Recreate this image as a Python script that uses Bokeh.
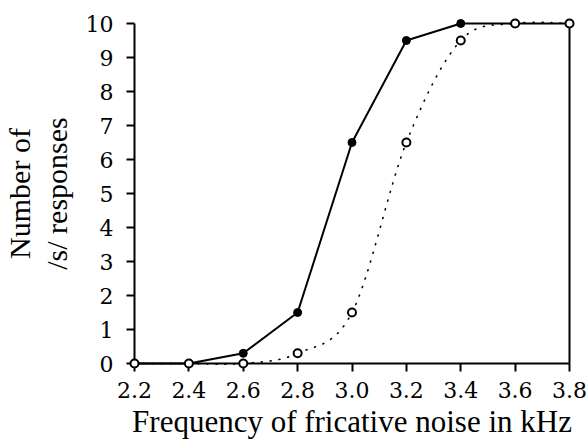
import numpy as np
from bokeh.plotting import figure
from bokeh.models import (Range1d, LinearAxis, FixedTicker, ColumnDataSource,
                          CustomJSTickFormatter)
from bokeh.embed import file_html
from bokeh.resources import INLINE

# Identification responses along the fricative-noise continuum
freq_khz = [2.2, 2.4, 2.6, 2.8, 3.0, 3.2, 3.4, 3.6, 3.8]
s_responses_solid = [0, 0, 0.3, 1.5, 6.5, 9.5, 10, 10, 10]
s_responses_dotted = [0, 0, 0, 0.3, 1.5, 6.5, 9.5, 10, 10]

x_ticks = [2.2, 2.4, 2.6, 2.8, 3.0, 3.2, 3.4, 3.6, 3.8]
x_tick_labels = ["2.2", "2.4", "2.6", "2.8", "3.0", "3.2", "3.4", "3.6", "3.8"]
y_ticks = [0, 1, 2, 3, 4, 5, 6, 7, 8, 9, 10]
y_tick_labels = ["0", "1", "2", "3", "4", "5", "6", "7", "8", "9", "10"]

x_title = "Frequency of fricative noise in kHz"
y_title = "Number of\n/s/ responses"

TITLE_FONT = "Liberation Serif"
TICK_FONT = "DejaVu Serif"
TICK_FONT_SIZE = "22px"
X_TITLE_FONT_SIZE = "31px"
Y_TITLE_FONT_SIZE = "30px"

x_lo, x_hi = x_ticks[0], x_ticks[-1]
y_lo, y_hi = y_ticks[0], y_ticks[-1]

p = figure(
    width=587, height=443,
    frame_width=435, frame_height=340,
    x_range=Range1d(x_lo, x_hi),
    y_range=Range1d(y_lo, y_hi),
    output_backend="svg", toolbar_location=None,
    min_border_left=132, min_border_right=20,
    min_border_top=23, min_border_bottom=80,
    x_axis_label=x_title, y_axis_label=y_title,
)
p.background_fill_color = "white"
p.border_fill_color = "white"
p.outline_line_color = None
p.xgrid.visible = False
p.ygrid.visible = False

LABEL_JS = """
let best = 0;
for (let i = 1; i < tick_values.length; i++) {
    if (Math.abs(tick_values[i] - tick) < Math.abs(tick_values[best] - tick)) best = i;
}
return tick_texts[best];
"""


def style_axis(ax, ticks, labels, title_size):
    ax.ticker = FixedTicker(ticks=ticks)
    ax.formatter = CustomJSTickFormatter(
        args=dict(tick_values=ticks, tick_texts=labels), code=LABEL_JS)
    ax.axis_line_width = 2
    ax.axis_line_color = "black"
    ax.major_tick_line_width = 2
    ax.major_tick_line_color = "black"
    ax.major_tick_in = 0
    ax.major_tick_out = 8
    ax.minor_tick_line_color = None
    ax.major_label_text_font = TICK_FONT
    ax.major_label_text_font_size = TICK_FONT_SIZE
    ax.major_label_text_font_style = "normal"
    ax.major_label_text_color = "black"
    ax.axis_label_text_font = TITLE_FONT
    ax.axis_label_text_font_size = title_size
    ax.axis_label_text_font_style = "normal"
    ax.axis_label_text_color = "black"


xa = p.xaxis[0]
style_axis(xa, x_ticks, x_tick_labels, X_TITLE_FONT_SIZE)
xa.major_label_standoff = 10
xa.axis_label_standoff = 3

ya = p.yaxis[0]
style_axis(ya, y_ticks, y_tick_labels, Y_TITLE_FONT_SIZE)
ya.major_label_standoff = 13
ya.axis_label_standoff = 10
ya.axis_label_text_line_height = 1.1

# plain right-hand spine
ra = LinearAxis(
    axis_line_width=2, axis_line_color="black",
    major_tick_line_color=None, minor_tick_line_color=None,
    major_label_text_color=None,
)
p.add_layout(ra, "right")

# solid series: straight segments with filled dots
p.line(freq_khz, s_responses_solid, line_color="black", line_width=2,
       level="overlay")
p.scatter(freq_khz, s_responses_solid, marker="circle", size=8,
          fill_color="black", line_color="black", line_width=1,
          level="overlay")

# dotted series: smooth cardinal curve through the points as Bezier pieces
xs = np.asarray(freq_khz, dtype=float)
ys = np.asarray(s_responses_dotted, dtype=float)
xp = np.concatenate([[xs[0]], xs, [xs[-1]]])
yp = np.concatenate([[ys[0]], ys, [ys[-1]]])
n = len(xs) - 1
bez = ColumnDataSource(dict(
    x0=xs[:-1], y0=ys[:-1], x1=xs[1:], y1=ys[1:],
    cx0=xs[:-1] + (xp[2:n + 2] - xp[0:n]) / 6.0,
    cy0=ys[:-1] + (yp[2:n + 2] - yp[0:n]) / 6.0,
    cx1=xs[1:] - (xp[3:n + 3] - xp[1:n + 1]) / 6.0,
    cy1=ys[1:] - (yp[3:n + 3] - yp[1:n + 1]) / 6.0,
))
p.bezier(x0="x0", y0="y0", x1="x1", y1="y1", cx0="cx0", cy0="cy0",
         cx1="cx1", cy1="cy1", source=bez, line_color="black",
         line_width=1.6, line_dash="1 8", line_cap="round", level="overlay")
p.scatter(freq_khz, s_responses_dotted, marker="circle", size=8,
          fill_color="white", line_color="black", line_width=2,
          level="overlay")

open("out.html", "w").write(file_html(p, INLINE))
